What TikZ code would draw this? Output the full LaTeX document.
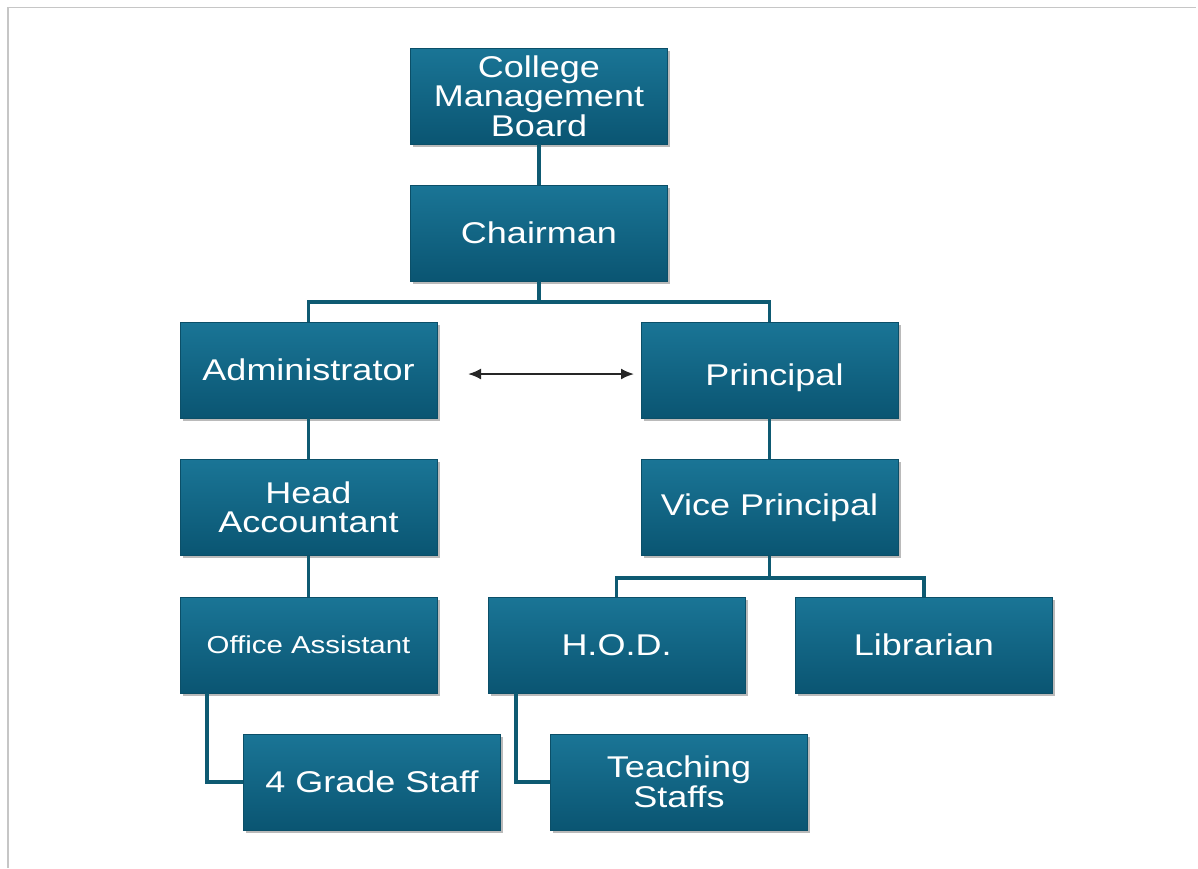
\documentclass[tikz,border=0pt]{standalone}
\usepackage{fontspec}
\setmainfont{Liberation Sans}
\usepackage{graphicx}
\usetikzlibrary{shadows,arrows.meta}
\definecolor{boxtop}{HTML}{1A7596}
\definecolor{boxbot}{HTML}{0A5572}
\definecolor{boxedge}{HTML}{0B4F68}
\definecolor{linkc}{HTML}{0E5A72}
\newcommand{\widetxt}[1]{\scalebox{1.2}[1]{#1}}
\tikzset{
  orgbox/.style={rectangle, minimum width=257pt, minimum height=96pt, inner sep=0pt,
    top color=boxtop, bottom color=boxbot, draw=boxedge, line width=0.6pt,
    drop shadow={shadow xshift=2.5pt, shadow yshift=-2.5pt, opacity=0.45, fill=black!60},
    text=white, font=\fontsize{30}{29.5}\selectfont, align=center},
  smallbox/.style={orgbox, font=\fontsize{24.5}{26}\selectfont},
  link/.style={draw=linkc, line width=3.2pt},
}
\begin{document}
\begin{tikzpicture}[x=1pt,y=-1pt]
\useasboundingbox (0,0) rectangle (1198,868);
\draw[gray!45, line width=1.5pt] (8,868) -- (8,7.5) -- (1196,7.5);

\node[orgbox] (cmb) at (539,96) {\widetxt{College}\\\widetxt{Management}\\\widetxt{Board}};
\node[orgbox] (chair) at (539,233) {\widetxt{Chairman}};
\node[orgbox] (admin) at (308.5,370) {\widetxt{Administrator}};
\node[orgbox] (prin) at (769.5,370) {\raisebox{-8pt}[\height][\depth]{\hspace{10pt}\widetxt{Principal}}};
\node[orgbox] (head) at (308.5,507.5) {\widetxt{Head}\\\widetxt{Accountant}};
\node[orgbox] (vp) at (769.5,507.5) {\widetxt{Vice Principal}};
\node[smallbox] (office) at (308.5,645) {\widetxt{Office Assistant}};
\node[orgbox] (hod) at (616.5,645) {\widetxt{H.O.D.}};
\node[orgbox] (lib) at (924,645) {\widetxt{Librarian}};
\node[orgbox] (grade) at (372,782) {\widetxt{4 Grade Staff}};
\node[orgbox] (teach) at (679,782) {\widetxt{Teaching}\\\widetxt{Staffs}};

\coordinate (j1) at (539,302);
\coordinate (j2) at (769.5,578);
\coordinate (ofs) at (207,693);
\coordinate (hds) at (516,693);

\draw[link] (cmb.south) -- (chair.north);
\draw[link] (chair.south) -- (j1) -| (admin.north);
\draw[link] (j1) -| (prin.north);
\draw[link] (admin.south) -- (head.north);
\draw[link] (head.south) -- (office.north);
\draw[link] (prin.south) -- (vp.north);
\draw[link] (vp.south) -- (j2) -| (hod.north);
\draw[link] (j2) -| (lib.north);
\draw[link] (ofs) |- (grade.west);
\draw[link] (hds) |- (teach.west);

\coordinate (al) at (468,374);
\coordinate (ar) at (634,374);
\draw[black!85, line width=2pt, {Latex[length=13pt,width=11pt]}-{Latex[length=13pt,width=11pt]}] (al) -- (ar);
\end{tikzpicture}
\end{document}
